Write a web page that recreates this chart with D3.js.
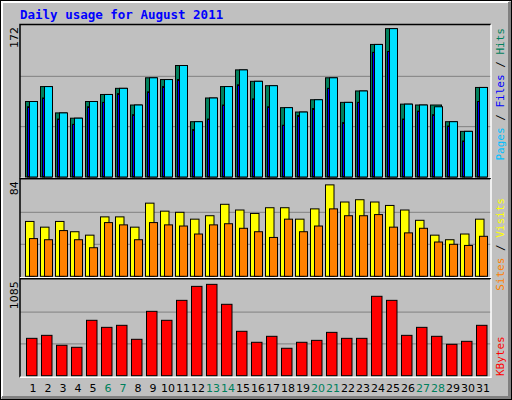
<!DOCTYPE html>
<html><head><meta charset="utf-8">
<script src="https://cdn.jsdelivr.net/npm/d3@7"></script>
<style>body{margin:0;background:#fff}</style>
</head><body>
<svg id="chart" width="512" height="400"></svg>
<script>
const days = d3.range(1, 32);
const weekends = [6, 7, 13, 14, 20, 21, 27, 28];
const hits  = [86,103,73,67,86,94,101,82,113,111,127,63,90,103,122,109,104,79,74,88,113,85,98,151,169,83,82,82,63,52,102];
const files = [86,103,73,67,86,94,101,82,113,111,127,63,90,103,122,109,104,79,74,88,113,85,98,151,169,83,82,80,63,52,102];
const pages = [80,90,66,60,80,85,95,71,97,103,111,54,66,82,105,89,80,59,70,78,101,62,85,142,143,66,75,71,58,41,86];
const visits = [48,43,48,39,36,52,52,43,64,57,56,50,53,63,58,55,60,60,50,59,80,65,67,65,62,58,49,36,32,37,50];
const sites  = [33,32,40,32,25,47,45,32,47,45,44,37,45,46,42,39,34,50,39,44,59,53,53,54,43,38,42,30,28,27,35];
const kbytes = [425,459,346,323,630,550,573,414,732,630,857,1016,1039,812,505,380,448,312,380,402,493,425,425,903,857,459,550,448,357,391,573];
const maxLabels = ["172", "84", "1085"];

const svg = d3.select("#chart");
// background and bevel
svg.append("rect").attr("x",0.5).attr("y",0.5).attr("width",511).attr("height",399).attr("fill","#c0c0c0").attr("stroke","#000");
svg.append("path").attr("d","M2,397V2H509").attr("fill","none").attr("stroke","#fff").attr("stroke-width",2);
svg.append("path").attr("d","M2,397.5H509.5V2").attr("fill","none").attr("stroke","#808080").attr("stroke-width",3);

svg.append("text").attr("x",20).attr("y",19).text("Daily usage for August 2011")
  .attr("font-family","DejaVu Sans Mono").attr("font-weight","bold").attr("font-size",12.5).attr("fill","#0000ff");

const x = d3.scaleLinear().domain([1, 32]).range([25, 490]);
const L = 20, R = 491;

function panel(top, bottom, max, label) {
  const y = d3.scaleLinear().domain([0, max]).range([bottom, top]);
  const g = svg.append("g");
  g.selectAll("line.grid").data([1/3, 2/3]).join("line")
    .attr("x1", L).attr("x2", R).attr("y1", d => y(max * d)).attr("y2", d => y(max * d))
    .attr("stroke", "#808080");
  g.append("path").attr("d", `M${L},${bottom + 1.5}V${top - 1.5}H${R}`).attr("fill","none").attr("stroke","#000").attr("stroke-width",1.5);
  g.append("path").attr("d", `M${L},${bottom + 1.5}H${R}V${top - 1.5}`).attr("fill","none").attr("stroke","#fff").attr("stroke-width",1.5);
  g.append("text").attr("transform", `translate(18,${top + 1}) rotate(-90)`).attr("text-anchor","end")
    .attr("font-family","DejaVu Sans").attr("font-size",11).text(label);
  return {g, y};
}

function bars(p, data, dx, w, fill) {
  p.g.selectAll(null).data(data).join("rect")
    .attr("x", (d, i) => x(days[i]) + dx).attr("width", w)
    .attr("y", d => p.y(d)).attr("height", d => p.y(0) - p.y(d))
    .attr("fill", fill).attr("stroke", "#000");
}

const p1 = panel(26, 177, +maxLabels[0], maxLabels[0]);
bars(p1, hits, 0.5, 11, "#00805c");
bars(p1, files, 4.5, 8, "#00e0ff");
bars(p1, pages, 2.5, 2, "#0000ff");

const p2 = panel(180.3, 276.3, +maxLabels[1], maxLabels[1]);
bars(p2, visits, 0.5, 8.5, "#ffff00");
bars(p2, sites, 4.5, 8, "#ff8000");

const p3 = panel(280.3, 375.7, +maxLabels[2], maxLabels[2]);
bars(p3, kbytes, 1.5, 10.5, "#ff0000");

// day labels
svg.selectAll("text.day").data(days).join("text")
  .attr("x", d => x(d) + 8).attr("y", 392).attr("text-anchor","middle")
  .attr("font-family","DejaVu Sans").attr("font-size",11)
  .attr("fill", d => weekends.includes(d) ? "#00805c" : "#000").text(d => d);

// right side legends
function legend(parts, yPos, anchor) {
  const t = svg.append("text").attr("transform", `translate(504,${yPos}) rotate(-90)`)
    .attr("text-anchor", anchor).attr("font-family","DejaVu Sans Mono").attr("font-size",11);
  parts.forEach(([s, c]) => t.append("tspan").attr("fill", c).text(s));
}
legend([["Pages","#00c0ff"],[" / ","#000"],["Files","#0000ff"],[" / ","#000"],["Hits","#00805c"]], 28, "end");
legend([["Sites","#ff8000"],[" / ","#000"],["Visits","#ffff00"]], 198, "end");
legend([["KBytes","#ff0000"]], 376, "start");
</script>
</body></html>
